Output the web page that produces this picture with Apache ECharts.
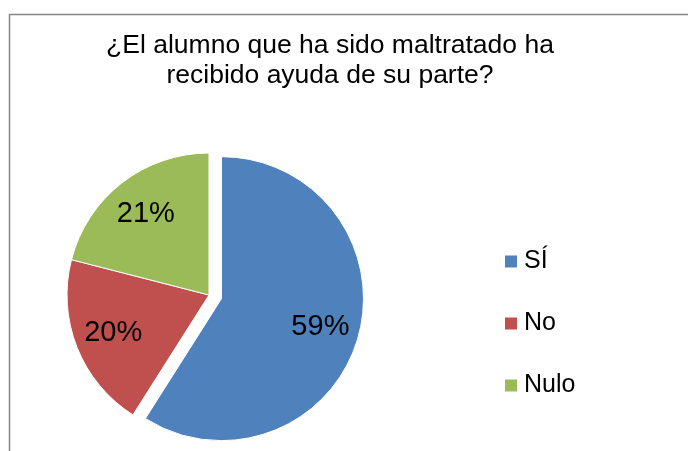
<!DOCTYPE html>
<html lang="es">
  <head>
    <meta charset="utf-8">
    <title>Ayuda al alumno maltratado</title>
    <script src="https://cdn.jsdelivr.net/npm/echarts@6/dist/echarts.min.js"></script>
    <style>
      html, body { margin: 0; padding: 0; background: #fff; }
    </style>
  </head>
  <body>
    <div id="pieChart" style="width: 688px;height:451px;"></div>
    <script type="text/javascript">
    // datos del grafico
    var categories = ['SÍ', 'No', 'Nulo'];
    var values = [59, 20, 21];
    var colors = ['#4F81BD', '#C0504D', '#9BBB59'];
    var titleText = '¿El alumno que ha sido maltratado ha\nrecibido ayuda de su parte?';

    var pieChart = echarts.init(document.getElementById('pieChart'));
    var font = "'Liberation Sans', Arial, sans-serif";

    var pieData = categories.map(function (name, i) {
        return {
            name: name,
            value: values[i],
            selected: i === 0,
            itemStyle: { color: colors[i] }
        };
    });

    var option = {
        animation: false,
        graphic: [{
            type: 'rect',
            shape: { x: 9.5, y: 14.5, width: 720, height: 500 },
            style: { fill: 'none', stroke: '#878787', lineWidth: 1.5 },
            z: -1
        }],
        title: {
            text: titleText,
            left: 325,
            top: 26,
            textAlign: 'center',
            textStyle: {
                fontFamily: font,
                fontSize: 26.5,
                fontWeight: 'normal',
                color: '#000',
                lineHeight: 30
            }
        },
        legend: {
            orient: 'vertical',
            left: 503,
            top: 249,
            padding: 0,
            icon: 'rect',
            itemWidth: 14,
            itemHeight: 14,
            itemGap: 37,
            selectedMode: false,
            data: categories,
            textStyle: {
                fontFamily: font,
                fontSize: 25,
                color: '#000',
                padding: [0, 0, 0, 1]
            }
        },
        series: [
            {
                name: 'Ayuda',
                type: 'pie',
                center: [209, 295],
                radius: [0, 142],
                startAngle: 90,
                clockwise: true,
                selectedMode: 'single',
                selectedOffset: 13,
                silent: true,
                itemStyle: { borderColor: '#fff', borderWidth: 1 },
                label: { show: false },
                labelLine: { show: false },
                data: pieData
            },
            {
                // capa solo para las etiquetas de porcentaje
                name: 'Etiquetas',
                type: 'pie',
                center: [209, 295],
                radius: [58, 142],
                startAngle: 90,
                clockwise: true,
                selectedMode: 'single',
                selectedOffset: 13,
                silent: true,
                itemStyle: { color: 'rgba(0,0,0,0)', borderWidth: 0 },
                label: {
                    show: true,
                    position: 'inside',
                    formatter: '{c}%',
                    fontFamily: font,
                    fontSize: 29,
                    color: '#000'
                },
                labelLine: { show: false },
                data: pieData.map(function (d) {
                    return { name: d.name, value: d.value, selected: d.selected };
                })
            }
        ]
    };

    pieChart.setOption(option);
    </script>
  </body>
</html>
